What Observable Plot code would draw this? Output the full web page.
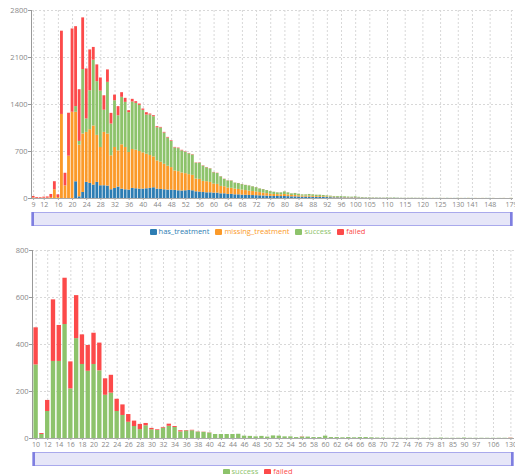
<!DOCTYPE html>
<html><head><meta charset="utf-8">
<script src="https://cdn.jsdelivr.net/npm/d3@7"></script>
<script src="https://cdn.jsdelivr.net/npm/@observablehq/plot@0.6"></script>
<style>
body{margin:0;width:515px;height:474px;overflow:hidden;background:#fff;font-family:"Open Sans",sans-serif;position:relative}
.chart{position:absolute;left:0}
.slider{position:absolute;box-sizing:border-box;border:1px solid #a9a9ec;background:#e6e6f8}
.slider .h{position:absolute;top:-1px;bottom:-1px;width:2px;background:#7f7fe0}
.legend{position:absolute;left:0;width:515px;height:10px;display:flex;justify-content:center;align-items:center;font-size:7.5px;line-height:1}
.legend .item{display:flex;align-items:center;margin:0 3px}
.legend i{display:inline-block;width:7px;height:6px;margin-right:2px;border-radius:1px}
</style></head><body>
<div id="top" class="chart" style="top:0"></div>
<div class="slider" style="top:212px;left:31px;width:482px;height:14px"><div class="h" style="left:0"></div><div class="h" style="right:0"></div></div>
<div id="legTop" class="legend" style="top:227px"></div>
<div id="bot" class="chart" style="top:240px"></div>
<div class="slider" style="top:452px;left:32px;width:482px;height:14px"><div class="h" style="left:0"></div><div class="h" style="right:0"></div></div>
<div id="legBot" class="legend" style="top:467px"></div>
<script>
// ---------- data: top chart ----------
const topSeries = ["has_treatment", "missing_treatment", "success", "failed"];
const topColors = ["#2d7db3", "#fb9a29", "#8dc36b", "#fc4a4a"];
const topCategories = [
  9,10,11,12,13,14,15,16,17,18,19,20,21,22,23,24,25,26,27,28,29,30,31,32,33,34,35,36,37,38,39,40,
  41,42,43,44,45,46,47,48,49,50,51,52,53,54,55,56,57,58,59,60,61,62,63,64,65,66,67,68,69,70,
  71,72,73,74,75,76,77,78,79,80,81,82,83,84,85,86,87,88,89,90,91,92,93,94,95,96,97,98,99,100,
  101,102,103,105,106,107,108,109,110,111,112,113,114,115,116,117,118,119,120,
  121,122,123,124,125,126,127,128,129,130,132,134,137,141,143,144,145,146,148,150,152,155,160,165,179
].map(String);
const topTicks = ["9","12","16","20","24","28","32","36","40","44","48","52","56","60","64","68","72","76","80","84","88","92","96","100","105","110","115","120","125","130","141","148","179"];
const hasTreatment = [
  0,0,0,0,0,0,0,0,0,0,0,0,249,25,90,240,225,200,240,190,190,185,130,150,170,140,130,125,150,145,140,140,
  145,150,160,140,135,130,125,125,120,115,112,115,120,115,100,95,90,85,85,80,80,70,70,60,62,55,55,50,48,45,
  44,42,40,38,35,32,30,30,29,30,28,25,25,22,20,20,20,18,17,17,15,14,12,10,10,10,8,7,7,8,
  6,5,4,4,3,3,3,2,3,2,2,2,1,1,1,1,1,1,1,
  1,1,0,1,1,0,1,0,1,1,0,1,0,1,0,0,0,0,1,0,0,0,0,0,0
];
const missingTreatment = [
  8,3,3,5,5,15,130,15,1252,188,630,1285,1035,770,870,745,800,880,700,570,795,775,506,610,540,660,630,560,580,575,560,540,
  515,490,460,420,405,380,355,335,290,285,268,255,235,230,190,190,165,165,155,135,130,110,105,95,90,85,80,75,70,65,
  60,55,48,42,38,32,30,28,26,30,26,20,20,18,15,15,15,14,12,12,10,10,9,8,8,7,6,5,5,6,
  4,4,3,3,3,2,2,2,2,2,1,1,1,1,1,1,1,1,1,
  1,0,1,0,1,1,0,1,0,1,1,0,1,0,1,0,1,0,0,1,0,0,1,0,1
];
const topSuccess = [
  0,0,0,0,0,0,0,0,0,0,0,0,85,55,960,200,580,980,800,840,330,770,473,696,522,707,672,593,707,697,687,633,
  583,603,598,494,509,465,420,390,343,343,330,318,310,302,235,240,227,207,200,169,162,142,110,106,108,89,87,82,76,77,
  70,64,54,52,45,38,33,26,29,38,30,24,29,24,19,19,24,22,20,20,19,15,13,11,12,13,11,10,8,11,
  8,6,5,5,4,4,3,3,5,3,6,3,2,2,2,3,2,2,2,
  2,1,2,1,2,1,2,1,1,2,1,1,2,1,1,1,1,2,1,1,0,1,1,0,2
];
const topFailed = [
  22,12,10,15,18,45,120,40,1240,188,640,1240,1190,770,770,745,608,190,250,195,215,185,159,84,136,69,60,30,40,25,20,20,
  35,15,15,15,10,10,10,10,8,8,8,6,6,6,5,5,5,5,4,4,4,3,3,3,3,2,2,2,2,2,
  2,2,2,2,1,1,1,1,1,1,1,1,1,1,1,1,1,1,1,1,1,1,1,1,0,0,0,0,0,0,
  0,0,0,0,0,0,0,0,0,0,0,0,0,0,0,0,0,0,0,
  0,0,0,0,0,0,0,0,0,0,0,0,0,0,0,0,0,0,0,0,0,0,0,0,0
];
const topYTicks = [0, 700, 1400, 2100, 2800];

// ---------- data: bottom chart ----------
const botSeries = ["success", "failed"];
const botColors = ["#8dc36b", "#fc4a4a"];
const botCategories = [
  10,11,12,13,14,15,16,17,18,19,20,21,22,23,24,25,26,27,28,29,30,31,32,33,34,35,36,37,38,39,40,
  41,42,43,44,45,46,47,48,49,50,51,52,53,54,55,56,57,58,59,60,61,62,63,64,65,66,67,68,69,70,
  71,72,73,74,75,76,78,79,80,81,83,85,87,90,93,97,100,103,106,112,120,130
].map(String);
const botTicks = ["10","12","14","16","18","20","22","24","26","28","30","32","34","36","38","40","42","44","46","48","50","52","54","56","58","60","62","64","66","68","70","72","74","76","79","81","85","90","97","106","130"];
const botSuccess = [
  313,17,115,328,328,485,211,425,315,286,315,288,184,193,115,98,69,51,38,54,37,34,44,52,47,28,32,33,27,26,23,
  17,17,17,17,18,10,9,7,9,6,11,10,7,7,4,6,6,4,4,10,4,4,3,4,3,4,4,3,2,2,
  1,1,1,1,1,1,1,1,1,2,1,1,1,2,1,1,1,1,1,1,1,1
];
const botFailed = [
  158,4,47,262,153,197,115,183,126,110,133,118,70,76,52,45,33,23,22,10,6,3,3,9,4,5,2,2,1,1,1,
  0,0,0,0,0,0,0,0,0,0,0,0,0,0,0,1,0,0,0,0,0,0,0,0,0,0,0,0,0,0,
  0,0,0,0,0,0,0,0,0,0,0,0,0,0,0,0,0,0,0,0,0,1
];
const botYTicks = [0, 200, 400, 600, 800];

// ---------- build ----------
function rows(cats, names, arrays) {
  const out = [];
  cats.forEach((c, i) => names.forEach((n, k) => out.push({cat: c, series: n, value: arrays[k][i]})));
  return out;
}
const font = {fontFamily: "'Open Sans', sans-serif", fontSize: "7.5px", background: "transparent", overflow: "visible"};
function chart({cats, ticks, yTicks, names, colors, data, ml, mr, padding}) {
  return Plot.plot({
    width: 515, height: 210,
    marginLeft: ml, marginRight: mr, marginTop: 10, marginBottom: 12,
    style: font,
    x: {type: "band", domain: cats, padding, label: null},
    y: {domain: [0, yTicks[yTicks.length - 1]], label: null},
    color: {domain: names, range: colors},
    marks: [
      Plot.gridY(yTicks.slice(1), {stroke: "#d8d8d8", strokeOpacity: 1, strokeDasharray: "2,2"}),
      Plot.gridX(ticks, {stroke: "#d8d8d8", strokeOpacity: 1, strokeDasharray: "2,2"}),
      Plot.barY(data, Plot.stackY({x: "cat", y: "value", fill: "series", order: names})),
      Plot.ruleY([0], {stroke: "#aaa"}),
      Plot.frame({anchor: "left", stroke: "#999"}),
      Plot.axisX({ticks, tickSize: 2, tickPadding: 1.5, fill: "#888", stroke: "#aaa", label: null, fontSize: 7}),
      Plot.axisY({ticks: yTicks, tickFormat: d => String(d), tickSize: 3, tickPadding: 1, fill: "#888", stroke: "#999", label: null, fontSize: 7.5})
    ]
  });
}
document.getElementById("top").append(chart({
  cats: topCategories, ticks: topTicks, yTicks: topYTicks, names: topSeries, colors: topColors,
  data: rows(topCategories, topSeries, [hasTreatment, missingTreatment, topSuccess, topFailed]),
  ml: 31, mr: 2, padding: 0.2
}));
document.getElementById("bot").append(chart({
  cats: botCategories, ticks: botTicks, yTicks: botYTicks, names: botSeries, colors: botColors,
  data: rows(botCategories, botSeries, [botSuccess, botFailed]),
  ml: 32, mr: 1, padding: 0.25
}));
function legend(id, names, colors) {
  const el = document.getElementById(id);
  names.forEach((n, i) => {
    const s = document.createElement("span");
    s.className = "item";
    s.style.color = colors[i];
    s.innerHTML = `<i style="background:${colors[i]}"></i>${n}`;
    el.append(s);
  });
}
legend("legTop", topSeries, topColors);
legend("legBot", botSeries, botColors);
</script>
</body></html>
